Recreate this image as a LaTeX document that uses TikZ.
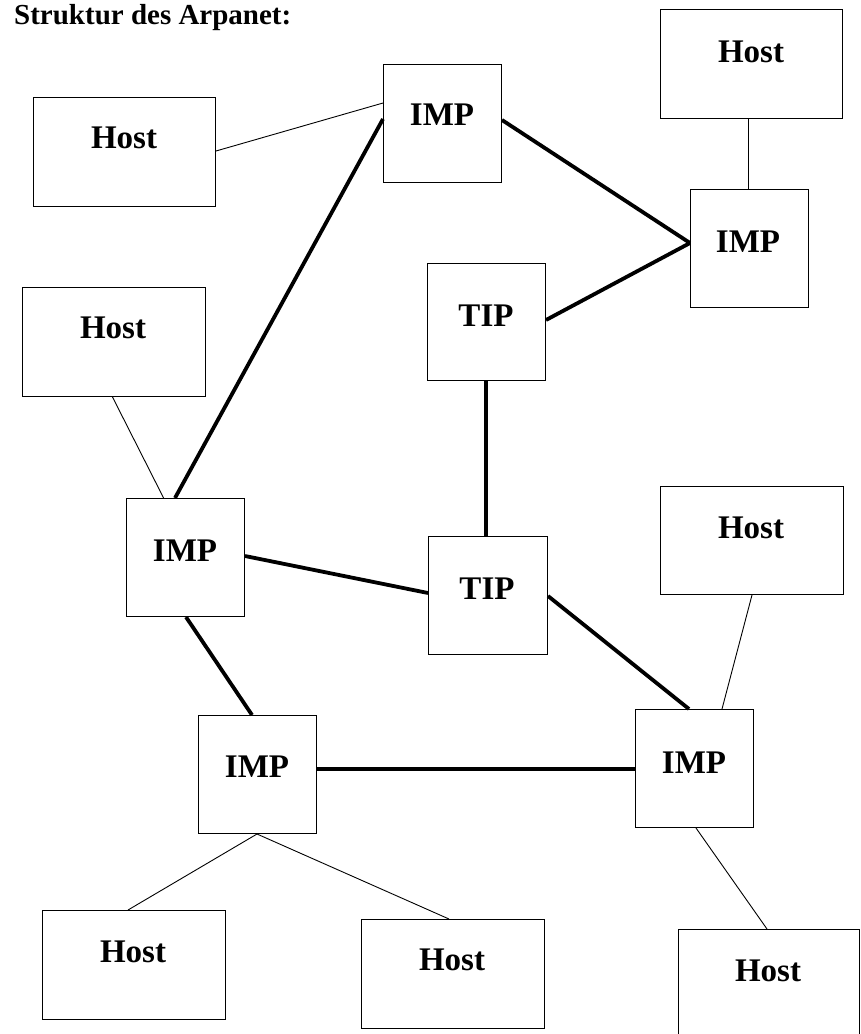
\documentclass[tikz,border=0pt]{standalone}
\usepackage{fontspec}
\setmainfont{Liberation Serif}
\usetikzlibrary{calc}
\begin{document}
\begin{tikzpicture}[x=1pt,y=-1pt,
  box/.style={draw, line width=1pt, inner sep=0pt, anchor=north west},
  lab/.style={font=\fontsize{33}{40}\selectfont\bfseries, anchor=base, inner sep=0pt},
  thin/.style={line width=0.9pt},
  thick/.style={line width=3.8pt}]
\useasboundingbox (0,0) rectangle (860,1034);
\node[font=\fontsize{29}{35}\selectfont\bfseries, anchor=base west, inner sep=0pt] (title) at (14,24) {Struktur des Arpanet:};
% boxes
\node[box, minimum width=182pt, minimum height=109pt] (H1) at (660,9) {};
\node[box, minimum width=182pt, minimum height=109pt] (H2) at (33,97) {};
\node[box, minimum width=118pt, minimum height=118pt] (I1) at (383,64) {};
\node[box, minimum width=118pt, minimum height=118pt] (I2) at (690,189) {};
\node[box, minimum width=118pt, minimum height=117pt] (T1) at (427,263) {};
\node[box, minimum width=183pt, minimum height=109pt] (H3) at (22,287) {};
\node[box, minimum width=118pt, minimum height=118pt] (I3) at (126,498) {};
\node[box, minimum width=119pt, minimum height=118pt] (T2) at (428,536) {};
\node[box, minimum width=183pt, minimum height=108pt] (H4) at (660,486) {};
\node[box, minimum width=118pt, minimum height=118pt] (I4) at (198,715) {};
\node[box, minimum width=118pt, minimum height=118pt] (I5) at (635,709) {};
\node[box, minimum width=183pt, minimum height=109pt] (H5) at (42,910) {};
\node[box, minimum width=183pt, minimum height=109pt] (H6) at (361,919) {};
\node[box, minimum width=181pt, minimum height=120pt] (H7) at (678,929) {};
% labels
\node[lab] (H1l) at (751,62) {Host};
\node[lab] (H2l) at (124,148) {Host};
\node[lab] (I1l) at (442,125) {IMP};
\node[lab] (I2l) at (748,252) {IMP};
\node[lab] (T1l) at (486,326) {TIP};
\node[lab] (H3l) at (113,338) {Host};
\node[lab] (I3l) at (185,561) {IMP};
\node[lab] (T2l) at (487,599) {TIP};
\node[lab] (H4l) at (751,538) {Host};
\node[lab] (I4l) at (257,777) {IMP};
\node[lab] (I5l) at (694,773) {IMP};
\node[lab] (H5l) at (133,962) {Host};
\node[lab] (H6l) at (452,970) {Host};
\node[lab] (H7l) at (768,981) {Host};
% thin connectors
\draw[thin] ($(H2.north east)+(0,54)$) -- ($(I1.north west)+(0,39)$);
\draw[thin] ($(H1.south west)+(88,0)$) -- ($(I2.north west)+(58,0)$);
\draw[thin] ($(H3.south west)+(90.5,0)$) -- ($(I3.north west)+(37.6,0)$);
\draw[thin] ($(H4.south west)+(92,0)$) -- ($(I5.north west)+(87,0)$);
\draw[thin] ($(I4.south west)+(59,0)$) -- ($(H5.north west)+(86,0)$);
\draw[thin] ($(I4.south west)+(59,0)$) -- ($(H6.north west)+(88,0)$);
\draw[thin] ($(I5.south west)+(61,0)$) -- ($(H7.north west)+(89,0)$);
% thick connectors
\draw[thick] ($(I1.north west)+(0,55)$) -- ($(I3.north west)+(49,0)$);
\draw[thick] ($(I1.north east)+(0,56)$) -- ($(I2.north west)+(0,54)$);
\draw[thick] ($(T1.north east)+(0,57)$) -- ($(I2.north west)+(0,54)$);
\draw[thick] ($(T1.south west)+(59,0)$) -- ($(T2.north west)+(58,0)$);
\draw[thick] ($(I3.north east)+(0,58)$) -- ($(T2.north west)+(0,57)$);
\draw[thick] ($(T2.north east)+(0,60)$) -- ($(I5.north west)+(54,0)$);
\draw[thick] ($(I3.south west)+(60,0)$) -- ($(I4.north west)+(54,0)$);
\draw[thick] ($(I4.north east)+(0,54)$) -- ($(I5.north west)+(0,60)$);
\end{tikzpicture}
\end{document}
